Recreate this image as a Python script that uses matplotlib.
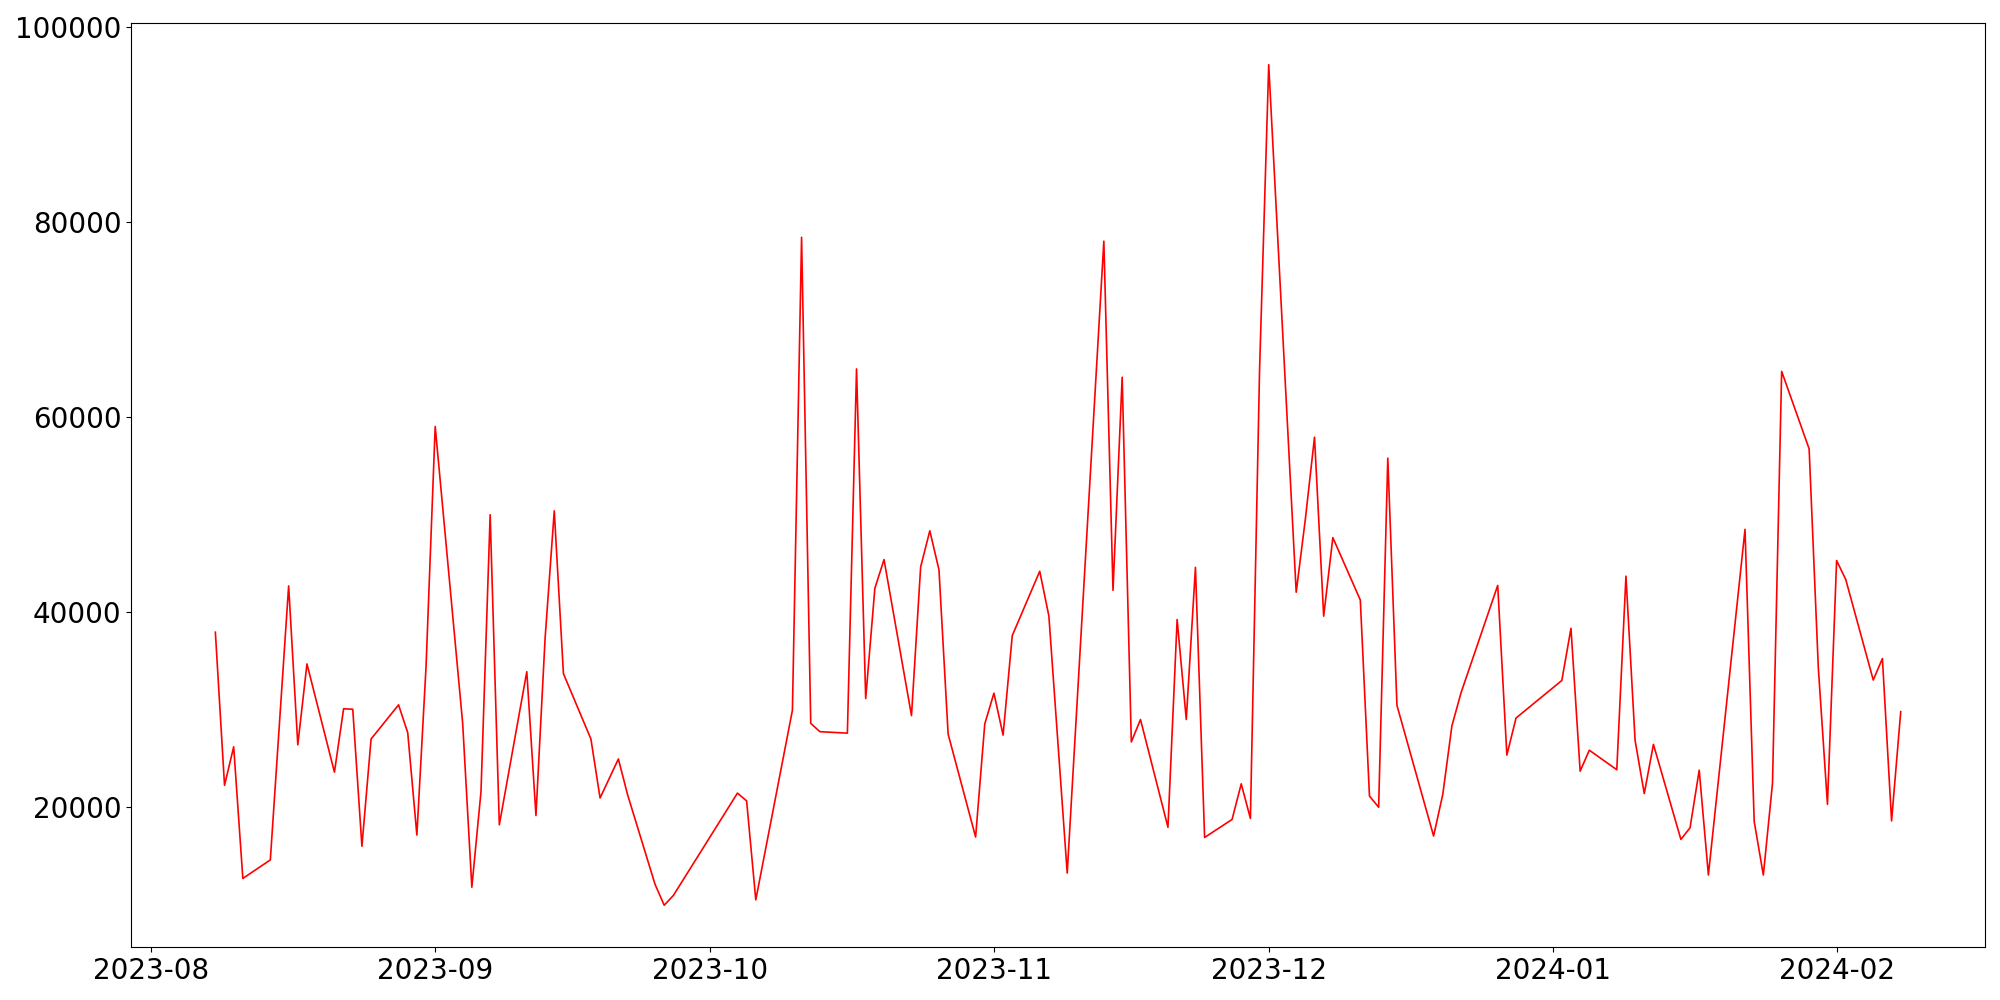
import matplotlib
matplotlib.use("Agg")
import matplotlib.pyplot as plt
import pandas as pd

dates = [
    "2023-08-08", "2023-08-09", "2023-08-10", "2023-08-11", "2023-08-14",
    "2023-08-16", "2023-08-17", "2023-08-18", "2023-08-21", "2023-08-22",
    "2023-08-23", "2023-08-24", "2023-08-25", "2023-08-28", "2023-08-29",
    "2023-08-30", "2023-08-31", "2023-09-01", "2023-09-04", "2023-09-05",
    "2023-09-06", "2023-09-07", "2023-09-08", "2023-09-11", "2023-09-12",
    "2023-09-13", "2023-09-14", "2023-09-15", "2023-09-18", "2023-09-19",
    "2023-09-21", "2023-09-22", "2023-09-25", "2023-09-26", "2023-09-27",
    "2023-10-04", "2023-10-05", "2023-10-06", "2023-10-10", "2023-10-11",
    "2023-10-12", "2023-10-13", "2023-10-16", "2023-10-17", "2023-10-18",
    "2023-10-19", "2023-10-20", "2023-10-23", "2023-10-24", "2023-10-25",
    "2023-10-26", "2023-10-27", "2023-10-30", "2023-10-31", "2023-11-01",
    "2023-11-02", "2023-11-03", "2023-11-06", "2023-11-07", "2023-11-09",
    "2023-11-13", "2023-11-14", "2023-11-15", "2023-11-16", "2023-11-17",
    "2023-11-20", "2023-11-21", "2023-11-22", "2023-11-23", "2023-11-24",
    "2023-11-27", "2023-11-28", "2023-11-29", "2023-11-30", "2023-12-01",
    "2023-12-04", "2023-12-05", "2023-12-06", "2023-12-07", "2023-12-08",
    "2023-12-11", "2023-12-12", "2023-12-13", "2023-12-14", "2023-12-15",
    "2023-12-19", "2023-12-20", "2023-12-21", "2023-12-22", "2023-12-26",
    "2023-12-27", "2023-12-28", "2024-01-02", "2024-01-03", "2024-01-04",
    "2024-01-05", "2024-01-08", "2024-01-09", "2024-01-10", "2024-01-11",
    "2024-01-12", "2024-01-15", "2024-01-16", "2024-01-17", "2024-01-18",
    "2024-01-22", "2024-01-23", "2024-01-24", "2024-01-25", "2024-01-26",
    "2024-01-29", "2024-01-30", "2024-01-31", "2024-02-01", "2024-02-02",
    "2024-02-05", "2024-02-06", "2024-02-07", "2024-02-08",
]

values = [
    37900, 22200, 26150, 12650, 14550,
    42650, 26350, 34650, 23550, 30050,
    30000, 15950, 26950, 30450, 27600,
    17100, 34350, 59000, 28550, 11750,
    21550, 49950, 18150, 33850, 19100,
    37300, 50350, 33650, 26950, 20900,
    24900, 21250, 12050, 9900, 10900,
    21400, 20600, 10450, 29900, 78400,
    28550, 27700, 27550, 64900, 31100,
    42400, 45350, 29350, 44600, 48300,
    44300, 27450, 16900, 28500, 31650,
    27350, 37550, 44150, 39550, 13200,
    78000, 42200, 64050, 26650, 28950,
    17900, 39200, 28950, 44550, 16850,
    18700, 22350, 18800, 64800, 96100,
    42000, 49500, 57900, 39550, 47600,
    41200, 21100, 19950, 55750, 30400,
    17000, 21250, 28300, 31700, 42700,
    25300, 29100, 32950, 38300, 23650,
    25800, 23800, 43650, 26800, 21350,
    26400, 16650, 17850, 23750, 13000,
    48450, 18500, 13000, 22400, 64650,
    56700, 34300, 20250, 45250, 43300,
    33000, 35200, 18550, 29750,
]

x = pd.to_datetime(dates)

fig, ax = plt.subplots(figsize=(20, 10), dpi=100)
ax.plot(x, values, color="red", linewidth=1.2)
ax.tick_params(axis="both", labelsize=20)
fig.tight_layout()
fig.savefig("out.png", dpi=100)
